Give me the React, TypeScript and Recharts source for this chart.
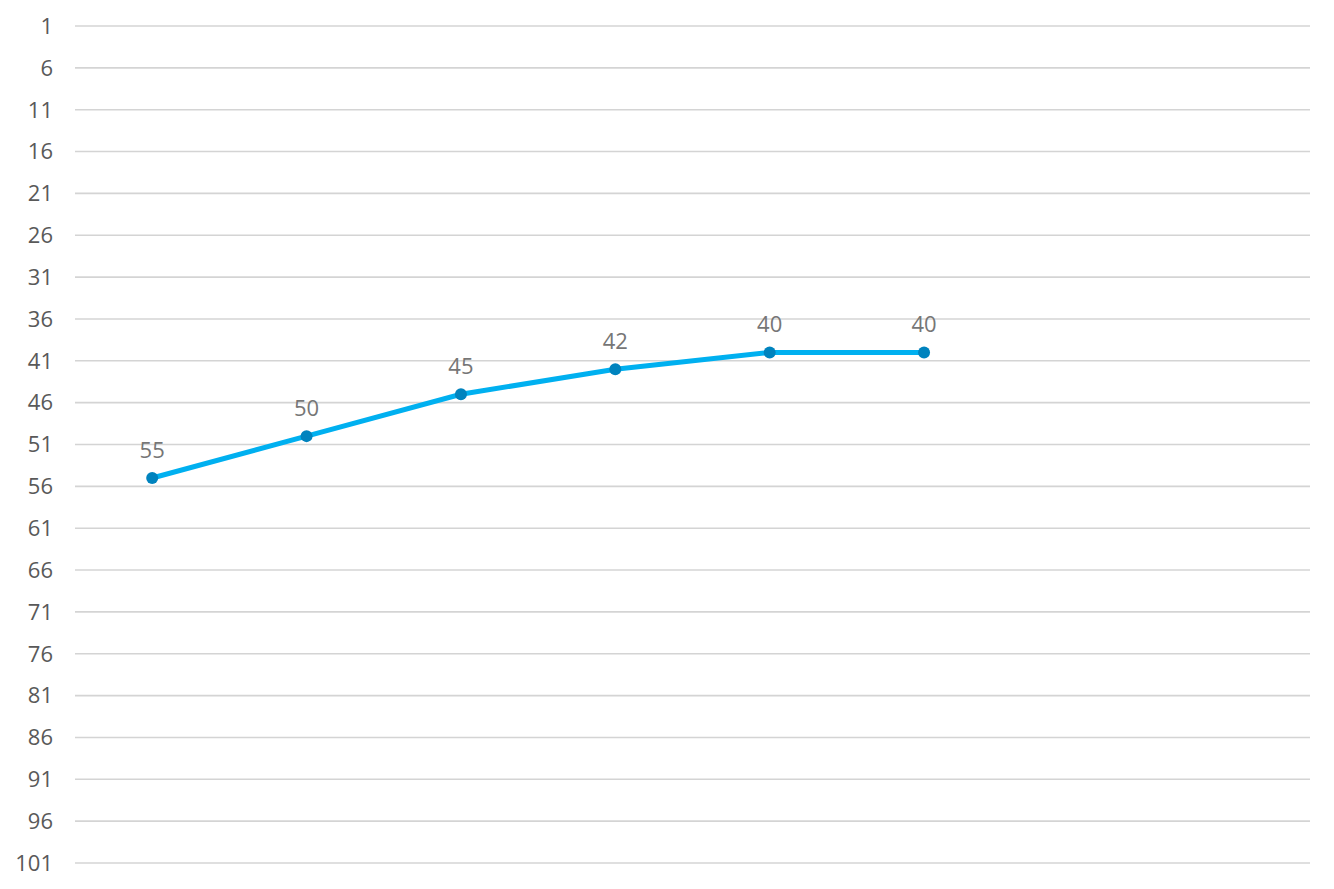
import { CartesianGrid, LabelList, Line, LineChart, XAxis, YAxis } from "recharts";

const categories = ["1", "2", "3", "4", "5", "6", "7", "8"];
const values: (number | null)[] = [55, 50, 45, 42, 40, 40, null, null];
const yTicks = [1, 6, 11, 16, 21, 26, 31, 36, 41, 46, 51, 56, 61, 66, 71, 76, 81, 86, 91, 96, 101];

const data = categories.map((name, i) => ({ name, rank: values[i] }));

export default function App() {
  return (
    <div style={{ position: "absolute", left: 0, top: 0, background: "#fff", fontFamily: "'Open Sans', sans-serif" }}>
      <LineChart width={1334} height={889} data={data} margin={{ top: 26, right: 24, bottom: 26, left: 0 }}>
        <CartesianGrid vertical={false} stroke="#D4D4D4" strokeWidth={1.6} />
        <XAxis dataKey="name" hide scale="band" />
        <YAxis
          domain={[1, 101]}
          reversed
          ticks={yTicks}
          interval={0}
          width={75}
          axisLine={false}
          tickLine={false}
          tickSize={0}
          tickMargin={22}
          tick={{ fontSize: 22, fill: "#595959" }}
        />
        <Line
          type="linear"
          dataKey="rank"
          stroke="#00B0F0"
          strokeWidth={5}
          dot={{ r: 6, fill: "#0083BE", stroke: "#0083BE", strokeWidth: 0 }}
          activeDot={false}
          isAnimationActive={false}
        >
          <LabelList dataKey="rank" position="top" offset={20} style={{ fontSize: 22, fill: "#767676" }} />
        </Line>
      </LineChart>
    </div>
  );
}
